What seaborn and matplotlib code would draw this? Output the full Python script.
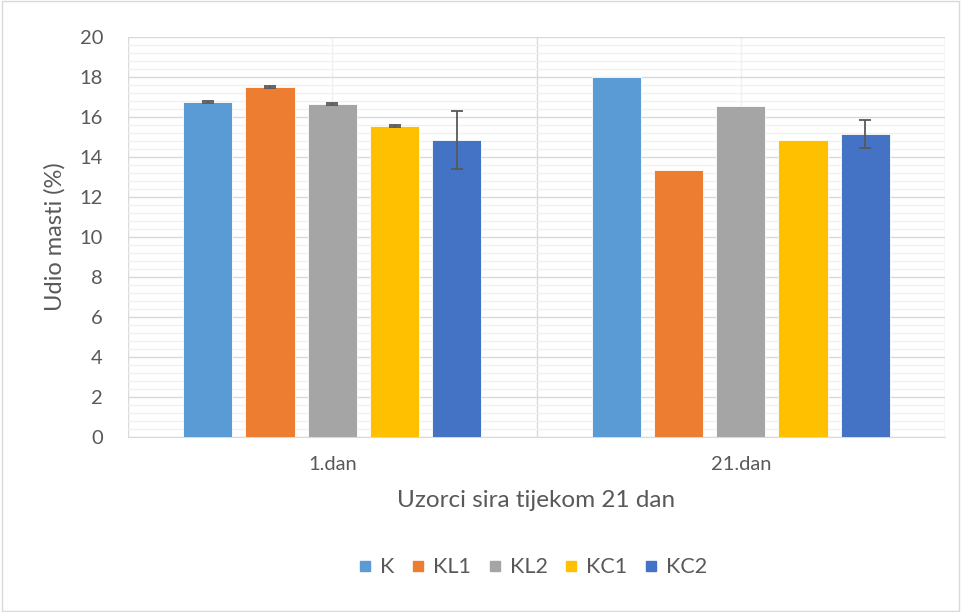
import pandas as pd
import numpy as np
import matplotlib
matplotlib.use('Agg')
import matplotlib.pyplot as plt
import seaborn as sns

# data
days = ['1.dan', '21.dan']
samples = ['K', 'KL1', 'KL2', 'KC1', 'KC2']
fat_day1 = [16.75, 17.5, 16.65, 15.55, 14.87]
fat_day21 = [18.0, 13.35, 16.53, 14.85, 15.15]
err_day1 = [0.03, 0.04, 0.07, 0.03, 1.45]
err_day21 = [0.0, 0.0, 0.0, 0.0, 0.7]
colors = ['#5B9BD5', '#ED7D31', '#A5A5A5', '#FFC000', '#4472C4']

df = pd.DataFrame({
    'Dan': np.repeat(days, len(samples)),
    'Uzorak': samples * len(days),
    'Mast': fat_day1 + fat_day21,
    'Err': err_day1 + err_day21,
})

sns.set_style('white')
plt.rcParams['font.family'] = ['Lato', 'DejaVu Sans']
txt = '#595959'

fig = plt.figure(figsize=(9.61, 6.12), dpi=100)
ax = fig.add_axes([0.1332, 0.2859, 0.8502, 0.6536])

sns.barplot(data=df, x='Dan', y='Mast', hue='Uzorak', palette=colors,
            saturation=1, width=0.762, gap=0.21, errorbar=None, ax=ax,
            edgecolor='white', linewidth=0.6, zorder=3)

# error bars placed on the drawn bars
for i, s in enumerate(samples):
    for j, d in enumerate(days):
        row = df[(df['Dan'] == d) & (df['Uzorak'] == s)].iloc[0]
        if row['Err'] <= 0:
            continue
        b = ax.containers[i][j]
        xc = b.get_x() + b.get_width() / 2
        ax.errorbar(xc, row['Mast'], yerr=row['Err'], fmt='none',
                    ecolor='#595959', elinewidth=1.3, capsize=4.5,
                    capthick=1.3, zorder=4)

ax.set_ylim(0, 20)
ax.set_xlim(-0.5, 1.5)
ax.set_yticks(np.arange(0, 21, 2))
ax.set_yticks(np.arange(0, 20.01, 0.4), minor=True)
ax.set_xticks([-0.5, 0.5, 1.5], minor=True)
ax.grid(axis='y', which='major', color='#D9D9D9', linewidth=1.0, zorder=0)
ax.grid(axis='y', which='minor', color='#F0F0F0', linewidth=1.0, zorder=0)
ax.grid(axis='x', which='minor', color='#D9D9D9', linewidth=1.0, zorder=0)
ax.grid(axis='x', which='major', color='#F0F0F0', linewidth=1.0, zorder=0)
ax.set_axisbelow(True)

for side in ['top', 'right', 'left']:
    ax.spines[side].set_visible(False)
ax.spines['bottom'].set_color('#D9D9D9')
ax.tick_params(axis='both', which='both', length=0, labelsize=14.5,
               labelcolor=txt)
ax.tick_params(axis='y', pad=18)
ax.tick_params(axis='x', pad=14)

ax.set_ylabel('Udio masti (%)', fontsize=17, color=txt, labelpad=10)
ax.set_xlabel('Uzorci sira tijekom 21 dan', fontsize=17.5, color=txt,
              labelpad=12)

ax.legend_.remove()
handles = [plt.Line2D([], [], marker='s', linestyle='none', markersize=7.5,
                      markerfacecolor=c, markeredgecolor=c) for c in colors]
fig.legend(handles, samples, loc='center', bbox_to_anchor=(0.554, 0.073),
           ncol=5, frameon=False, fontsize=15.5, labelcolor=txt,
           handletextpad=0.35, columnspacing=0.75, handlelength=0.7)

# chart border
fig.patches.append(plt.Rectangle((0.002, 0.002), 0.996, 0.996,
                                 transform=fig.transFigure, fill=False,
                                 edgecolor='#D9D9D9', linewidth=1))

fig.savefig('out.png', dpi=100)
